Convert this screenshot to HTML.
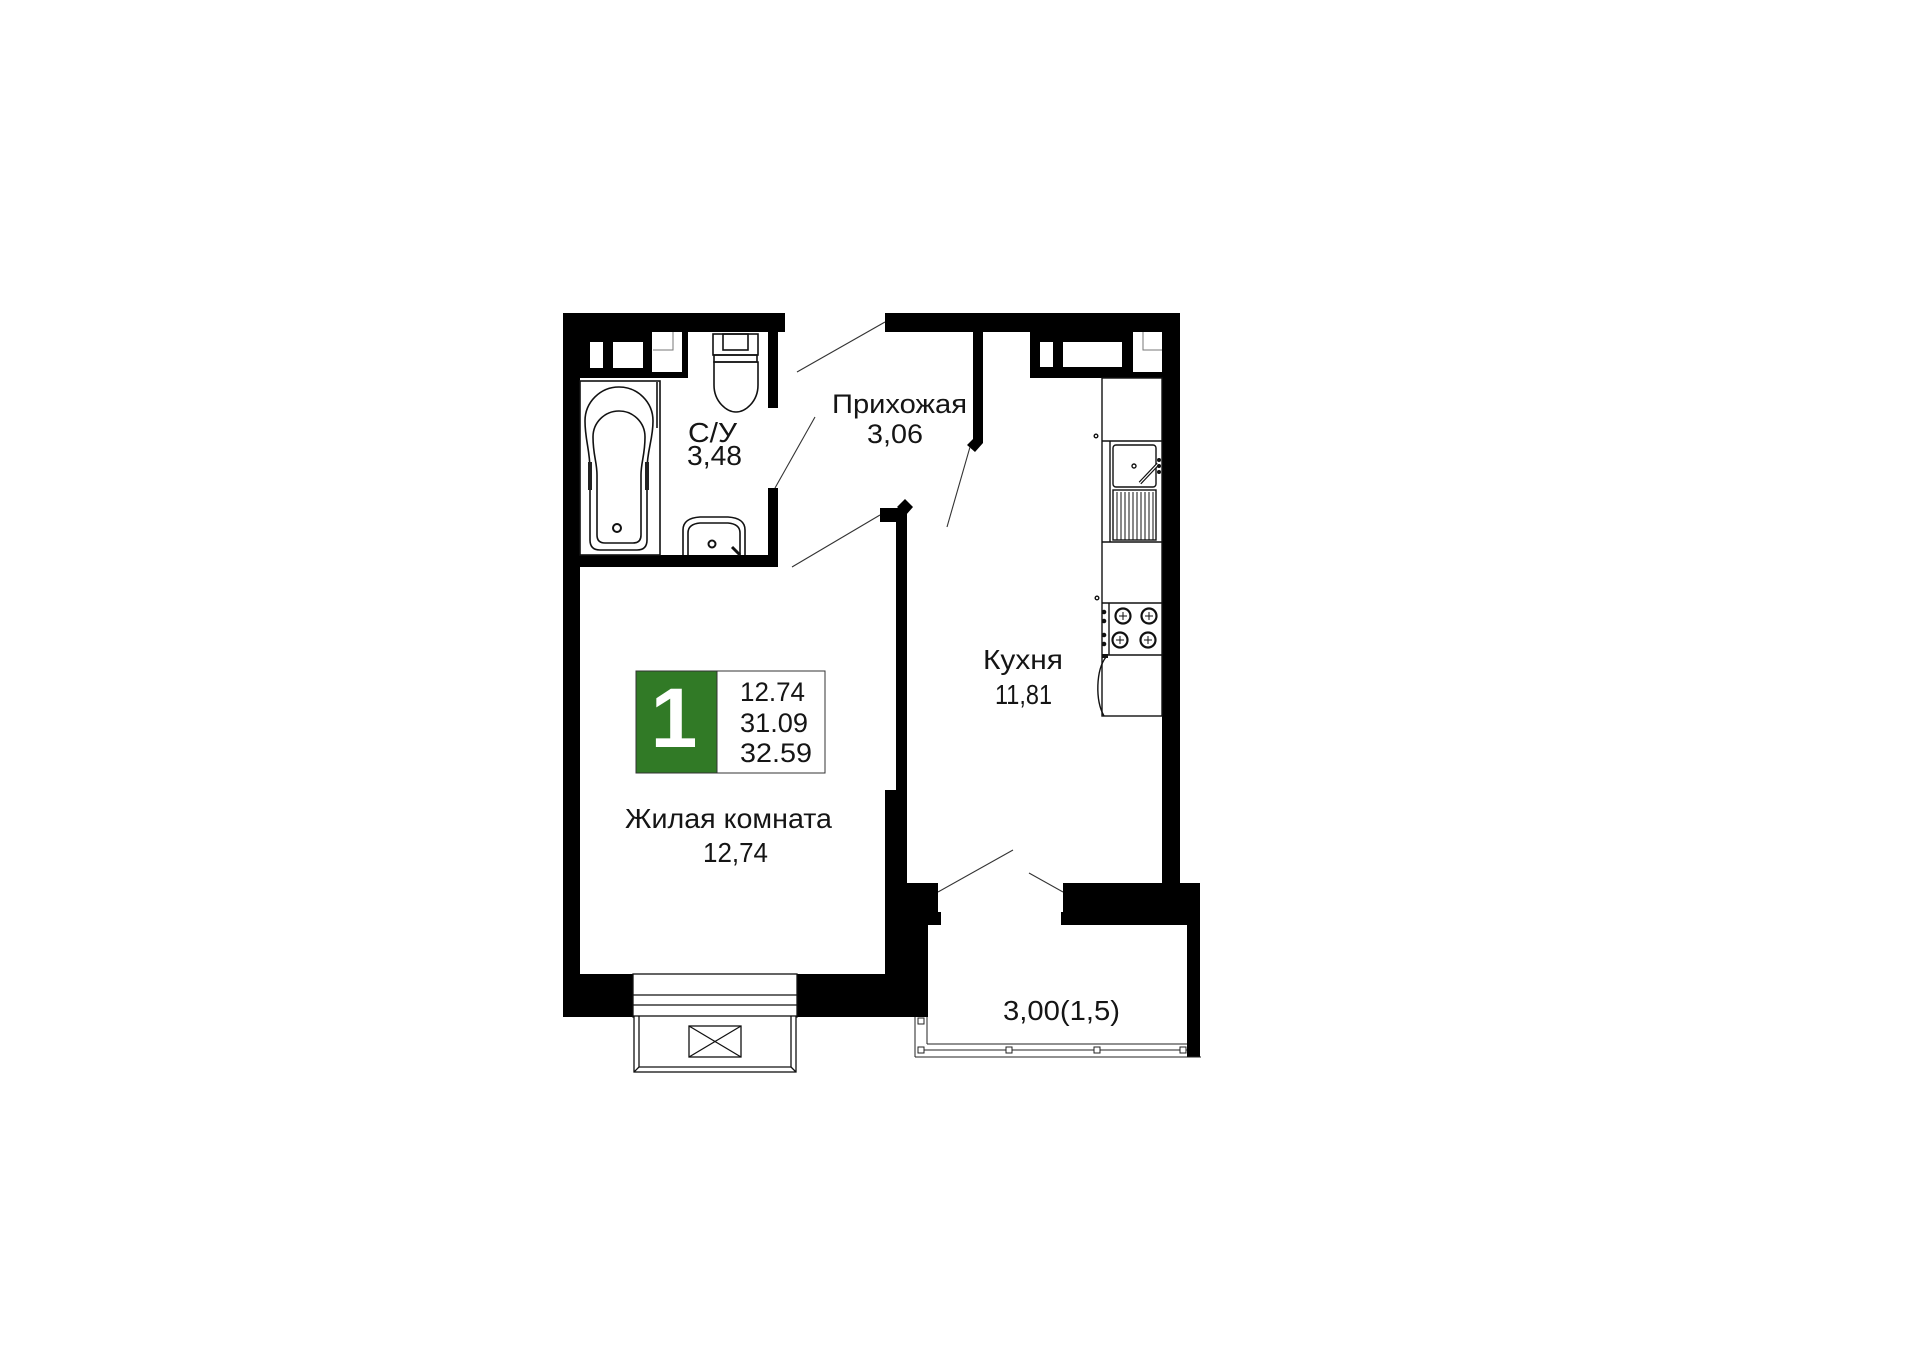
<!DOCTYPE html>
<html>
<head>
<meta charset="utf-8">
<style>
  html, body { margin:0; padding:0; background:#ffffff; }
  body { width:1920px; height:1357px; overflow:hidden; }
  svg { display:block; }
  .t { font-family:"Liberation Sans", "DejaVu Sans", sans-serif; fill:#151515; }
</style>
</head>
<body>
<svg width="1920" height="1357" viewBox="0 0 1920 1357" xmlns="http://www.w3.org/2000/svg">
  <rect x="0" y="0" width="1920" height="1357" fill="#ffffff"/>

  <!-- ===== WALLS ===== -->
  <g fill="#000" shape-rendering="crispEdges">
    <rect x="563" y="313" width="222" height="19"/>
    <rect x="563" y="332" width="125" height="46"/>
    <rect x="563" y="313" width="17" height="704"/>
    <rect x="768" y="313" width="10" height="95"/>
    <rect x="768" y="488" width="10" height="79"/>
    <rect x="580" y="555" width="198" height="12"/>
    <rect x="885" y="313" width="295" height="19"/>
    <rect x="1030" y="332" width="150" height="46"/>
    <rect x="1162" y="313" width="18" height="575"/>
    <rect x="896" y="508" width="11" height="285"/>
    <rect x="880" y="508" width="27" height="14"/>
    <rect x="885" y="790" width="22" height="95"/>
    <rect x="563" y="974" width="70" height="43"/>
    <rect x="797" y="974" width="100" height="43"/>
  </g>
  <g fill="#000">
    <polygon points="973,332 983,332 983,443 975,452 967,445 973,439"/>
    <polygon points="897,507 905,499 913,507 906,515"/>
    <polygon points="885,883 938,883 938,912 941,912 941,925 928,925 928,1017 885,1017"/>
    <polygon points="1063,883 1200,883 1200,1057 1187,1057 1187,925 1061,925 1061,912 1063,912"/>
    <rect x="628" y="1003" width="7" height="14"/>
    <rect x="795" y="1003" width="7" height="14"/>
  </g>

  <g fill="#fff" shape-rendering="crispEdges">
    <rect x="590" y="342" width="13" height="26"/>
    <rect x="613" y="342" width="30" height="26"/>
    <rect x="652" y="332" width="30" height="40"/>
    <rect x="1040" y="342" width="13" height="25"/>
    <rect x="1063" y="342" width="59" height="25"/>
    <rect x="1133" y="332" width="29" height="40"/>
  </g>
  <g stroke="#777" stroke-width="1" fill="none">
    <path d="M673,332 V350 H653"/>
    <path d="M1143,332 V350 H1162"/>
  </g>

  <!-- ===== LIVING ROOM WINDOW / FRENCH BALCONY ===== -->
  <g stroke="#111" stroke-width="1.3" fill="none">
    <rect x="633" y="974" width="164" height="43" fill="#fff"/>
    <line x1="633" y1="995" x2="797" y2="995"/>
    <line x1="633" y1="1005" x2="797" y2="1005"/>
    <rect x="634" y="1016" width="162" height="56" fill="#fff"/>
    <path d="M639,1016 V1067 H791 V1016"/>
    <line x1="634" y1="1072" x2="639" y2="1067"/>
    <line x1="796" y1="1072" x2="791" y2="1067"/>
    <rect x="689" y="1026" width="52" height="31"/>
    <line x1="689" y1="1026" x2="741" y2="1057"/>
    <line x1="741" y1="1026" x2="689" y2="1057"/>
  </g>

  <!-- ===== KITCHEN BALCONY RAILING ===== -->
  <g stroke="#222" stroke-width="1" fill="none">
    <line x1="915" y1="1017" x2="915" y2="1057"/>
    <line x1="927" y1="1017" x2="927" y2="1044"/>
    <line x1="915" y1="1057" x2="1201" y2="1057"/>
    <line x1="927" y1="1044" x2="1187" y2="1044"/>
    <line x1="921" y1="1050" x2="1187" y2="1050"/>
    <rect x="918" y="1018" width="6" height="6" fill="#fff"/>
    <rect x="918" y="1047" width="6" height="6" fill="#fff"/>
    <rect x="1006" y="1047" width="6" height="6" fill="#fff"/>
    <rect x="1094" y="1047" width="6" height="6" fill="#fff"/>
    <rect x="1180" y="1047" width="6" height="6" fill="#fff"/>
  </g>

  <!-- ===== DOOR SWING LINES ===== -->
  <g stroke="#333" stroke-width="1.1">
    <line x1="797" y1="372" x2="885" y2="322"/>
    <line x1="775" y1="488" x2="815" y2="417"/>
    <line x1="792" y1="567" x2="880" y2="515"/>
    <line x1="970" y1="447" x2="947" y2="527"/>
    <line x1="938" y1="892" x2="1013" y2="850"/>
    <line x1="1029" y1="873" x2="1063" y2="892"/>
  </g>

  <!-- ===== BATHROOM FIXTURES ===== -->
  <g stroke="#111" stroke-width="1.6" fill="none">
    <rect x="580" y="381" width="80" height="174"/>
    <path d="M585,421 A34,34 0 0 1 653,421 C653,440 647,450 647,470 L647,540 Q647,550 637,550 L600,550 Q590,550 590,540 L590,470 C590,450 585,440 585,421 Z"/>
    <path d="M593,437 A26,26 0 0 1 645,437 C645,455 641,462 641,475 L641,535 Q641,543 633,543 L605,543 Q597,543 597,535 L597,475 C597,462 593,455 593,437 Z"/>
    <circle cx="617" cy="528" r="4" stroke-width="2"/>
    <line x1="657" y1="382" x2="657" y2="428"/>
    <rect x="713" y="334" width="45" height="21"/>
    <rect x="723" y="334" width="25" height="16"/>
    <rect x="714" y="355" width="43" height="7"/>
    <path d="M714,362 L758,362 L758,385 C758,402 745,412 736,412 C727,412 714,402 714,385 Z"/>
    <path d="M683,555 L683,530 Q683,518 700,517 L728,517 Q745,518 745,530 L745,555"/>
    <path d="M688,555 L688,533 Q688,524 700,523 L728,523 Q740,524 740,533 L740,555"/>
    <circle cx="712" cy="544" r="3.5" stroke-width="2"/>
  </g>
  <g fill="#222">
    <rect x="588" y="462" width="4" height="28"/>
    <rect x="645" y="462" width="4" height="28"/>
  </g>
  <line x1="732" y1="547" x2="740" y2="555" stroke="#111" stroke-width="3"/>

  <!-- ===== KITCHEN FURNITURE ===== -->
  <g stroke="#111" stroke-width="1.4" fill="none">
    <rect x="1102" y="378" width="60" height="338"/>
    <line x1="1102" y1="441" x2="1162" y2="441"/>
    <line x1="1102" y1="542" x2="1162" y2="542"/>
    <line x1="1102" y1="603" x2="1162" y2="603"/>
    <line x1="1102" y1="655" x2="1162" y2="655"/>
    <line x1="1110" y1="441" x2="1110" y2="542"/>
    <rect x="1113" y="445" width="43" height="42" rx="3"/>
    <circle cx="1134" cy="466" r="2"/>
    <rect x="1113" y="490" width="43" height="50"/>
    <line x1="1109" y1="603" x2="1109" y2="655"/>
    <circle cx="1123" cy="616" r="7.5" stroke-width="2.2"/>
    <circle cx="1149" cy="616" r="7.5" stroke-width="2.2"/>
    <circle cx="1120" cy="640" r="7.5" stroke-width="2.2"/>
    <circle cx="1148" cy="640" r="7.5" stroke-width="2.2"/>
    <path d="M1106,657 C1096,670 1095,700 1104,716"/>
    <circle cx="1096" cy="436" r="1.8"/>
    <circle cx="1097" cy="598" r="1.8"/>
  </g>
  <g stroke="#111" stroke-width="1">
    <line x1="1117" y1="492" x2="1117" y2="540"/>
    <line x1="1121" y1="492" x2="1121" y2="540"/>
    <line x1="1125" y1="492" x2="1125" y2="540"/>
    <line x1="1129" y1="492" x2="1129" y2="540"/>
    <line x1="1133" y1="492" x2="1133" y2="540"/>
    <line x1="1137" y1="492" x2="1137" y2="540"/>
    <line x1="1141" y1="492" x2="1141" y2="540"/>
    <line x1="1145" y1="492" x2="1145" y2="540"/>
    <line x1="1149" y1="492" x2="1149" y2="540"/>
    <line x1="1153" y1="492" x2="1153" y2="540"/>
    <path d="M1119,616 h8 M1123,612 v8 M1145,616 h8 M1149,612 v8 M1116,640 h8 M1120,636 v8 M1144,640 h8 M1148,636 v8"/>
  </g>
  <line x1="1140" y1="483" x2="1158" y2="464" stroke="#111" stroke-width="3.5"/>
  <line x1="1140" y1="483" x2="1158" y2="464" stroke="#fff" stroke-width="1.2"/>
  <g fill="#111">
    <circle cx="1159" cy="460" r="2"/>
    <circle cx="1159" cy="466" r="2"/>
    <circle cx="1159" cy="472" r="2"/>
    <circle cx="1104" cy="612" r="2.3"/>
    <circle cx="1104" cy="621" r="2.3"/>
    <circle cx="1104" cy="635" r="2.3"/>
    <circle cx="1104" cy="644" r="2.3"/>
    <rect x="1102" y="654" width="6" height="4"/>
  </g>

  <!-- ===== BADGE ===== -->
  <rect x="636" y="671" width="189" height="102" fill="#fff" stroke="#333" stroke-width="1"/>
  <rect x="636" y="671" width="81" height="102" fill="#317a26" stroke="#333" stroke-width="1"/>
  <text class="t" x="674" y="747" font-size="84" font-weight="bold" text-anchor="middle" style="fill:#ffffff">1</text>
  <text class="t" x="740" y="701" font-size="27" textLength="65" lengthAdjust="spacingAndGlyphs">12.74</text>
  <text class="t" x="740" y="732" font-size="27" textLength="68" lengthAdjust="spacingAndGlyphs">31.09</text>
  <text class="t" x="740" y="762" font-size="27" textLength="72" lengthAdjust="spacingAndGlyphs">32.59</text>

  <!-- ===== ROOM LABELS ===== -->
  <text class="t" x="688" y="442" font-size="28" textLength="49" lengthAdjust="spacingAndGlyphs">С/У</text>
  <text class="t" x="687" y="465" font-size="28" textLength="55" lengthAdjust="spacingAndGlyphs">3,48</text>
  <text class="t" x="832" y="413" font-size="27" textLength="135" lengthAdjust="spacingAndGlyphs">Прихожая</text>
  <text class="t" x="867" y="443" font-size="27" textLength="56" lengthAdjust="spacingAndGlyphs">3,06</text>
  <text class="t" x="983" y="669" font-size="28" textLength="80" lengthAdjust="spacingAndGlyphs">Кухня</text>
  <text class="t" x="995" y="704" font-size="28" textLength="57" lengthAdjust="spacingAndGlyphs">11,81</text>
  <text class="t" x="625" y="828" font-size="28" textLength="207" lengthAdjust="spacingAndGlyphs">Жилая комната</text>
  <text class="t" x="703" y="862" font-size="28" textLength="65" lengthAdjust="spacingAndGlyphs">12,74</text>
  <text class="t" x="1003" y="1020" font-size="28" textLength="117" lengthAdjust="spacingAndGlyphs">3,00(1,5)</text>
</svg>
</body>
</html>
